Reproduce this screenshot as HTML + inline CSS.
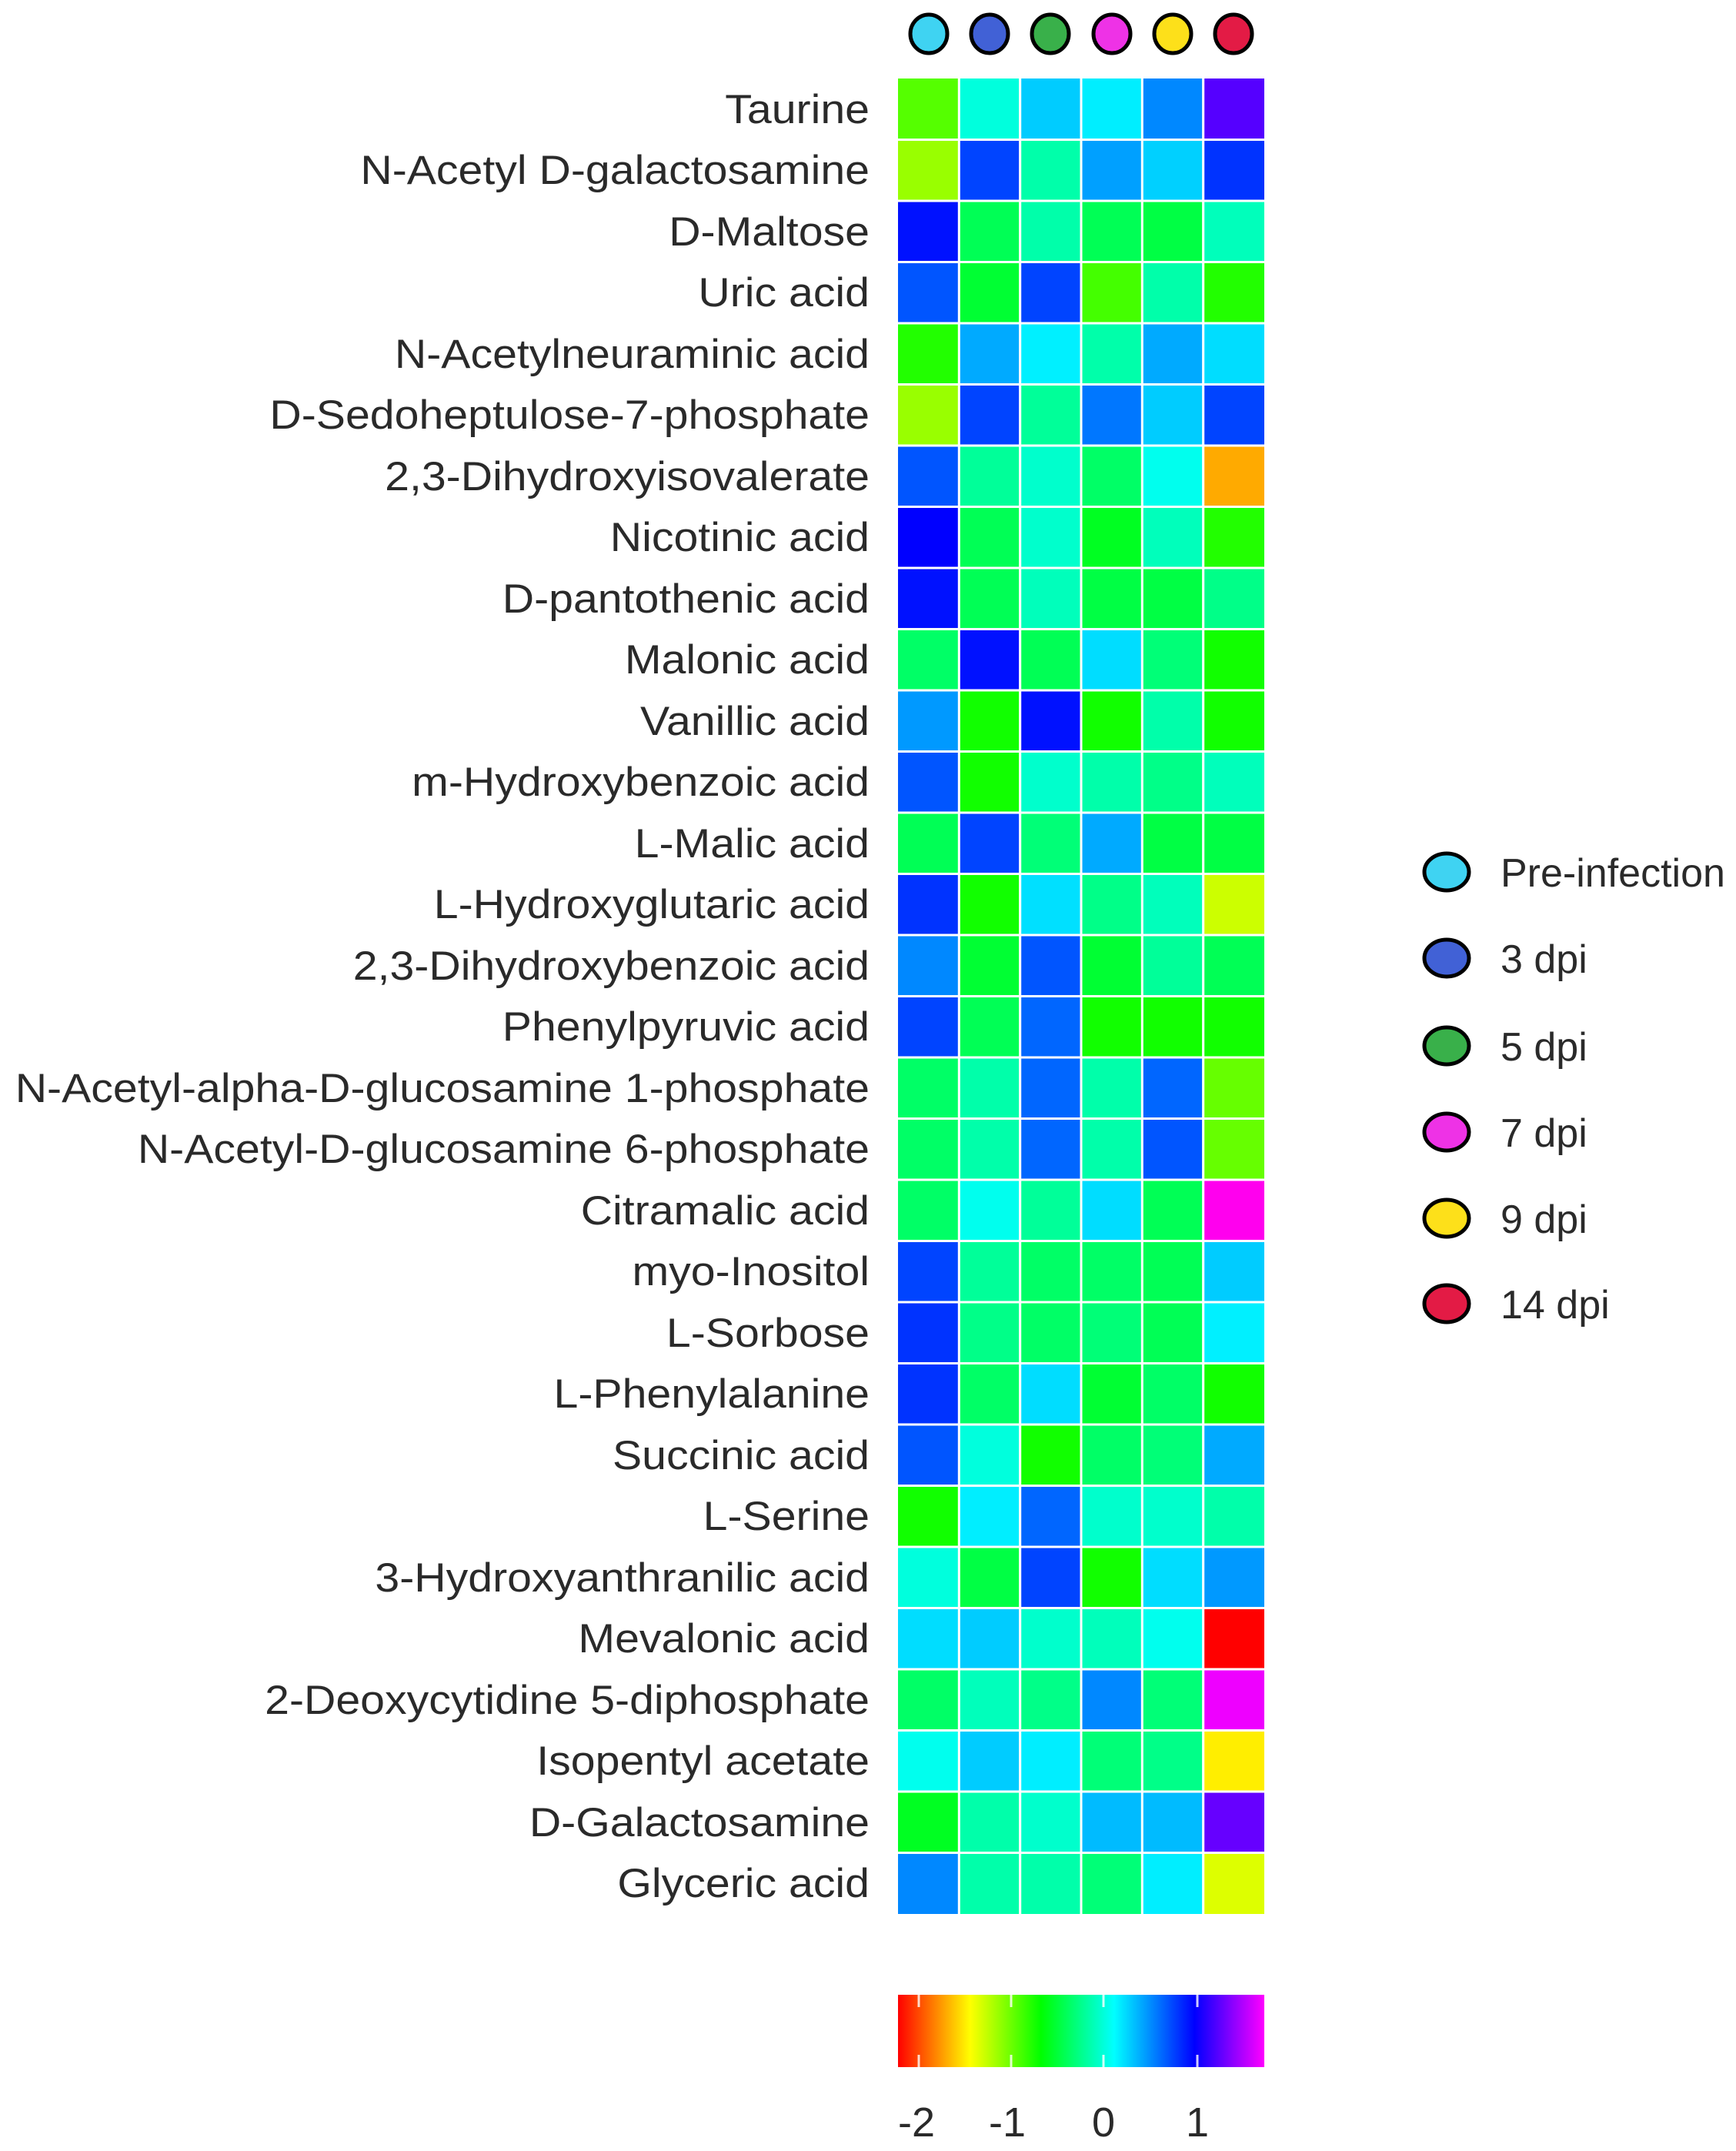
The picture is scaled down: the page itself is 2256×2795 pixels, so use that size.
<!DOCTYPE html>
<html><head><meta charset="utf-8"><style>
html,body{margin:0;padding:0;background:#fff;}
svg{display:block;}
text{font-family:"Liberation Sans",sans-serif;fill:#2a2a2a;}
</style></head><body>
<svg id="s" width="2256" height="2795" xmlns="http://www.w3.org/2000/svg">
<defs>
<linearGradient id="g" x1="0" x2="1" y1="0" y2="0">
<stop offset="0" stop-color="#ff0000"/>
<stop offset="0.197" stop-color="#ffff00"/>
<stop offset="0.39" stop-color="#00ff00"/>
<stop offset="0.59" stop-color="#00ffff"/>
<stop offset="0.81" stop-color="#0000ff"/>
<stop offset="1" stop-color="#ff00ff"/>
</linearGradient>
</defs>
<g id="cells"></g>
<g id="top" stroke="#000" stroke-width="5">
<ellipse cx="1207" cy="44" rx="24" ry="25" fill="#3fd3f2"/>
<ellipse cx="1286" cy="44" rx="24" ry="25" fill="#4161d6"/>
<ellipse cx="1365" cy="44" rx="24" ry="25" fill="#39b04a"/>
<ellipse cx="1445" cy="44" rx="24" ry="25" fill="#ee32e6"/>
<ellipse cx="1524" cy="44" rx="24" ry="25" fill="#fde01a"/>
<ellipse cx="1603" cy="44" rx="24" ry="25" fill="#e31b45"/>
</g>
<g stroke="#000" stroke-width="5">
<ellipse cx="1880" cy="1133" rx="29" ry="24" fill="#3fd3f2"/>
<ellipse cx="1880" cy="1245" rx="29" ry="24" fill="#4161d6"/>
<ellipse cx="1880" cy="1359" rx="29" ry="24" fill="#39b04a"/>
<ellipse cx="1880" cy="1471" rx="29" ry="24" fill="#ee32e6"/>
<ellipse cx="1880" cy="1583" rx="29" ry="24" fill="#fde01a"/>
<ellipse cx="1880" cy="1694" rx="29" ry="24" fill="#e31b45"/>
</g>
<g font-size="52">
<text x="1950" y="1152">Pre-infection</text>
<text x="1950" y="1264">3 dpi</text>
<text x="1950" y="1378">5 dpi</text>
<text x="1950" y="1490">7 dpi</text>
<text x="1950" y="1602">9 dpi</text>
<text x="1950" y="1713">14 dpi</text>
</g>
<g font-size="53" text-anchor="end" id="labels" transform="translate(1130,0) scale(1.08,1) translate(-1130,0)">
<text x="1130" y="160">Taurine</text>
<text x="1130" y="239">N-Acetyl D-galactosamine</text>
<text x="1130" y="319">D-Maltose</text>
<text x="1130" y="398">Uric acid</text>
<text x="1130" y="478">N-Acetylneuraminic acid</text>
<text x="1130" y="557">D-Sedoheptulose-7-phosphate</text>
<text x="1130" y="637">2,3-Dihydroxyisovalerate</text>
<text x="1130" y="716">Nicotinic acid</text>
<text x="1130" y="796">D-pantothenic acid</text>
<text x="1130" y="875">Malonic acid</text>
<text x="1130" y="955">Vanillic acid</text>
<text x="1130" y="1034">m-Hydroxybenzoic acid</text>
<text x="1130" y="1114">L-Malic acid</text>
<text x="1130" y="1193">L-Hydroxyglutaric acid</text>
<text x="1130" y="1273">2,3-Dihydroxybenzoic acid</text>
<text x="1130" y="1352">Phenylpyruvic acid</text>
<text x="1130" y="1432">N-Acetyl-alpha-D-glucosamine 1-phosphate</text>
<text x="1130" y="1511">N-Acetyl-D-glucosamine 6-phosphate</text>
<text x="1130" y="1591">Citramalic acid</text>
<text x="1130" y="1670">myo-Inositol</text>
<text x="1130" y="1750">L-Sorbose</text>
<text x="1130" y="1829">L-Phenylalanine</text>
<text x="1130" y="1909">Succinic acid</text>
<text x="1130" y="1988">L-Serine</text>
<text x="1130" y="2068">3-Hydroxyanthranilic acid</text>
<text x="1130" y="2147">Mevalonic acid</text>
<text x="1130" y="2227">2-Deoxycytidine 5-diphosphate</text>
<text x="1130" y="2306">Isopentyl acetate</text>
<text x="1130" y="2386">D-Galactosamine</text>
<text x="1130" y="2465">Glyceric acid</text>
</g>
<rect x="1167" y="2592" width="476" height="94" fill="url(#g)"/>
<g stroke="#ffffff" stroke-width="3" opacity="0.8">
<line x1="1194" y1="2592" x2="1194" y2="2608"/><line x1="1194" y1="2670" x2="1194" y2="2686"/>
<line x1="1314" y1="2592" x2="1314" y2="2608"/><line x1="1314" y1="2670" x2="1314" y2="2686"/>
<line x1="1434" y1="2592" x2="1434" y2="2608"/><line x1="1434" y1="2670" x2="1434" y2="2686"/>
<line x1="1556" y1="2592" x2="1556" y2="2608"/><line x1="1556" y1="2670" x2="1556" y2="2686"/>
</g>
<g font-size="54" text-anchor="middle">
<text x="1191" y="2776">-2</text>
<text x="1309" y="2776">-1</text>
<text x="1434" y="2776">0</text>
<text x="1556" y="2776">1</text>
</g>
</svg>
<script>
var C=[
["#55ff00","#00ffdd","#00ccff","#00eeff","#0088ff","#5500ff"],
["#99ff00","#0044ff","#00ffaa","#00a0ff","#00d0ff","#0033ff"],
["#0011ff","#00ff55","#00ffaa","#00ff55","#00ff44","#00ffbb"],
["#0055ff","#00ff33","#0044ff","#44ff00","#00ffaa","#22ff00"],
["#22ff00","#00aaff","#00f0ff","#00ffaa","#00aaff","#00ddff"],
["#99ff00","#0044ff","#00ff99","#0077ff","#00ccff","#0044ff"],
["#0055ff","#00ff99","#00ffcc","#00ff66","#00ffee","#ffaa00"],
["#0000ff","#00ff55","#00ffcc","#00ff22","#00ffbb","#22ff00"],
["#0011ff","#00ff55","#00ffbb","#00ff44","#00ff44","#00ff88"],
["#00ff66","#0011ff","#00ff55","#00ddff","#00ff77","#11ff00"],
["#0099ff","#11ff00","#0011ff","#11ff00","#00ffaa","#11ff00"],
["#0055ff","#11ff00","#00ffcc","#00ffaa","#00ff88","#00ffbb"],
["#00ff55","#0044ff","#00ff77","#00aaff","#00ff44","#00ff44"],
["#0033ff","#11ff00","#00e0ff","#00ff88","#00ffbb","#ccff00"],
["#0088ff","#00ff33","#0055ff","#00ff33","#00ff99","#00ff55"],
["#0044ff","#00ff55","#0066ff","#11ff00","#11ff00","#11ff00"],
["#00ff66","#00ffaa","#0066ff","#00ffaa","#0066ff","#66ff00"],
["#00ff66","#00ffaa","#0066ff","#00ffaa","#0055ff","#66ff00"],
["#00ff66","#00ffee","#00ff99","#00ddff","#00ff55","#ff00ee"],
["#0044ff","#00ff99","#00ff66","#00ff66","#00ff55","#00ccff"],
["#0033ff","#00ff88","#00ff66","#00ff77","#00ff55","#00f0ff"],
["#0033ff","#00ff66","#00ddff","#00ff33","#00ff66","#11ff00"],
["#0055ff","#00ffdd","#11ff00","#00ff66","#00ff77","#00aaff"],
["#11ff00","#00eeff","#0066ff","#00ffcc","#00ffcc","#00ffaa"],
["#00ffdd","#00ff44","#0044ff","#11ff00","#00ddff","#0099ff"],
["#00ddff","#00ccff","#00ffcc","#00ffbb","#00ffee","#ff0000"],
["#00ff66","#00ffbb","#00ff88","#0088ff","#00ff77","#ee00ff"],
["#00ffee","#00ccff","#00eeff","#00ff77","#00ff88","#ffee00"],
["#00ff22","#00ffaa","#00ffcc","#00bbff","#00bbff","#6600ff"],
["#0088ff","#00ffaa","#00ffaa","#00ff77","#00eeff","#ddff00"]];
var g=document.getElementById("cells"),ns="http://www.w3.org/2000/svg";
var x0=1167,y0=102,cw=476/6,rh=2385/30;
for(var r=0;r<30;r++)for(var c=0;c<6;c++){
var e=document.createElementNS(ns,"rect");
var x=x0+c*cw,y=y0+r*rh;
e.setAttribute("x",(x+(c?1.5:0)).toFixed(1));
e.setAttribute("y",(y+(r?1.5:0)).toFixed(1));
e.setAttribute("width",(cw-(c?1.5:0)-(c<5?1.5:0)).toFixed(1));
e.setAttribute("height",(rh-(r?1.5:0)-(r<29?1.5:0)).toFixed(1));
e.setAttribute("fill",C[r][c]);g.appendChild(e);}
</script>
</body></html>
